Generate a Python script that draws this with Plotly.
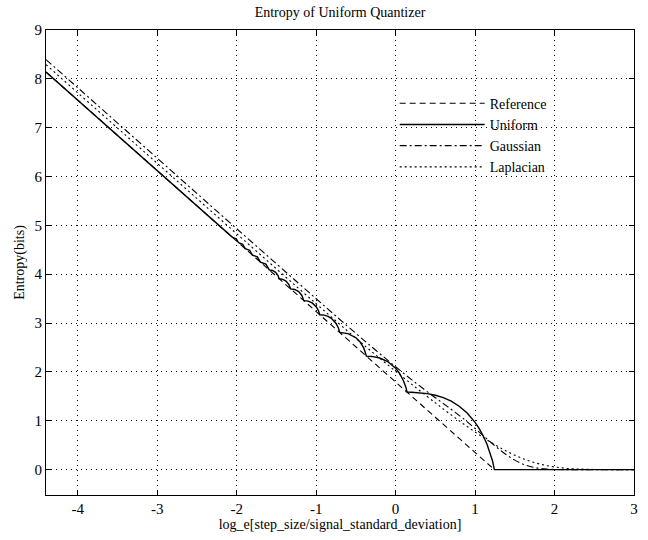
import plotly.graph_objects as go

# Reference line (high-resolution approximation)
ref_x = [-4.4, 1.2425]
ref_y = [8.140, 0.0]

# Uniform signal, uniform (midtread) quantizer
uni_x = [-4.4, -3.0, -2.5642, -2.4711, -2.3684, -2.3128, -2.254, -2.1915, -2.1248, -2.0533,
         -2.0054, -1.9764, -1.9245, -1.893, -1.8365, -1.802, -1.7399, -1.7019, -1.6331, -1.5907,
         -1.55, -1.51, -1.48, -1.465, -1.42, -1.38, -1.345, -1.322, -1.27, -1.22,
         -1.18, -1.155, -1.1, -1.05, -1.0, -0.97, -0.9546, -0.9, -0.85, -0.8,
         -0.75, -0.72, -0.7033, -0.65, -0.6, -0.5, -0.45, -0.4, -0.38, -0.367,
         -0.3, -0.2, -0.1, 0.0, 0.05, 0.1, 0.13, 0.144, 0.2, 0.3,
         0.4, 0.5, 0.6, 0.7, 0.8, 0.9, 1.0, 1.05, 1.1, 1.15,
         1.2, 1.22, 1.2425, 3.0]
uni_y = [8.140, 6.121, 5.492, 5.358, 5.209, 5.129, 5.044, 4.954, 4.858, 4.755,
         4.727, 4.644, 4.614, 4.524, 4.491, 4.392, 4.357, 4.248, 4.208, 4.087,
         4.077, 4.039, 3.973, 3.907, 3.896, 3.860, 3.794, 3.700, 3.688, 3.643,
         3.565, 3.459, 3.448, 3.412, 3.335, 3.250, 3.170, 3.162, 3.136, 3.084,
         2.992, 2.898, 2.807, 2.802, 2.784, 2.700, 2.618, 2.486, 2.405, 2.322,
         2.317, 2.285, 2.212, 2.075, 1.968, 1.815, 1.682, 1.585, 1.584, 1.575,
         1.555, 1.522, 1.472, 1.400, 1.297, 1.159, 0.967, 0.844, 0.698, 0.519,
         0.291, 0.176, 0.0, 0.0]

# Gaussian signal
gau_x = [-4.4, -3.0, -2.0, -1.0, -0.5, -0.25, 0.0, 0.25, 0.5, 0.625, 0.75, 0.875, 1.0,
         1.125, 1.25, 1.375, 1.5, 1.625, 1.75, 1.875, 2.0, 2.25, 3.0]
gau_y = [8.395, 6.375, 4.932, 3.498, 2.789, 2.443, 2.105, 1.779, 1.471, 1.323, 1.172, 1.013, 0.842,
         0.663, 0.487, 0.326, 0.194, 0.099, 0.042, 0.014, 0.003, 0.0, 0.0]

# Laplacian signal
lap_x = [-4.4, -3.0, -2.0, -1.0, -0.5, -0.25, 0.0, 0.25, 0.5, 0.625, 0.75, 0.875, 1.0,
         1.125, 1.25, 1.375, 1.5, 1.625, 1.75, 1.875, 2.0, 2.125, 2.25, 2.5, 3.0]
lap_y = [8.291, 6.271, 4.828, 3.395, 2.690, 2.346, 2.014, 1.685, 1.365, 1.210, 1.059, 0.911, 0.769,
         0.634, 0.509, 0.395, 0.295, 0.210, 0.142, 0.090, 0.054, 0.030, 0.015, 0.003, 0.0]

x_ticks = [-4, -3, -2, -1, 0, 1, 2, 3]
x_tick_labels = ["-4", "-3", "-2", "-1", "0", "1", "2", "3"]
y_ticks = [0, 1, 2, 3, 4, 5, 6, 7, 8, 9]
y_tick_labels = ["0", "1", "2", "3", "4", "5", "6", "7", "8", "9"]

FONT = "Liberation Serif, Times New Roman, serif"

fig = go.Figure()
fig.add_trace(go.Scatter(x=ref_x, y=ref_y, mode="lines", name="Reference",
                         line=dict(color="black", width=1.1, dash="6px,4px")))
fig.add_trace(go.Scatter(x=uni_x, y=uni_y, mode="lines", name="Uniform",
                         line=dict(color="black", width=1.4)))
fig.add_trace(go.Scatter(x=gau_x, y=gau_y, mode="lines", name="Gaussian",
                         line=dict(color="black", width=1.1, dash="7px,3px,2px,3px"), line_shape="spline"))
fig.add_trace(go.Scatter(x=lap_x, y=lap_y, mode="lines", name="Laplacian",
                         line=dict(color="black", width=1.1, dash="2px,3px"), line_shape="spline"))

axis_common = dict(
    showline=True, linecolor="black", linewidth=1, mirror="ticks",
    ticks="inside", ticklen=5, tickcolor="black",
    showgrid=True, gridcolor="black", gridwidth=1, griddash="1px,4px",
    zeroline=False, tickfont=dict(family=FONT, size=15, color="black"),
)

fig.update_layout(
    width=648, height=540,
    margin=dict(l=46, r=10, t=30, b=44),
    paper_bgcolor="white", plot_bgcolor="white",
    font=dict(family=FONT, size=14, color="black"),
    title=dict(text="Entropy of Uniform Quantizer", x=0.5, xref="paper", xanchor="center",
               y=1 - 12 / 540, yref="container", yanchor="middle",
               font=dict(family=FONT, size=14, color="black")),
    xaxis=dict(range=[-4.4, 3.0], tickvals=x_ticks, ticktext=x_tick_labels,
               title=dict(text="log_e[step_size/signal_standard_deviation]", standoff=3,
                          font=dict(family=FONT, size=14, color="black")),
               **axis_common),
    yaxis=dict(range=[-0.52, 9.0], tickvals=y_ticks, ticktext=y_tick_labels,
               title=dict(text="Entropy(bits)", standoff=6,
                          font=dict(family=FONT, size=14, color="black")),
               **axis_common),
    legend=dict(x=0.593, y=0.876, xanchor="left", yanchor="top",
                bgcolor="rgba(0,0,0,0)", borderwidth=0, itemwidth=85,
                font=dict(family=FONT, size=14, color="black"), tracegroupgap=0),
    showlegend=True,
)

fig.write_html("out.html")
